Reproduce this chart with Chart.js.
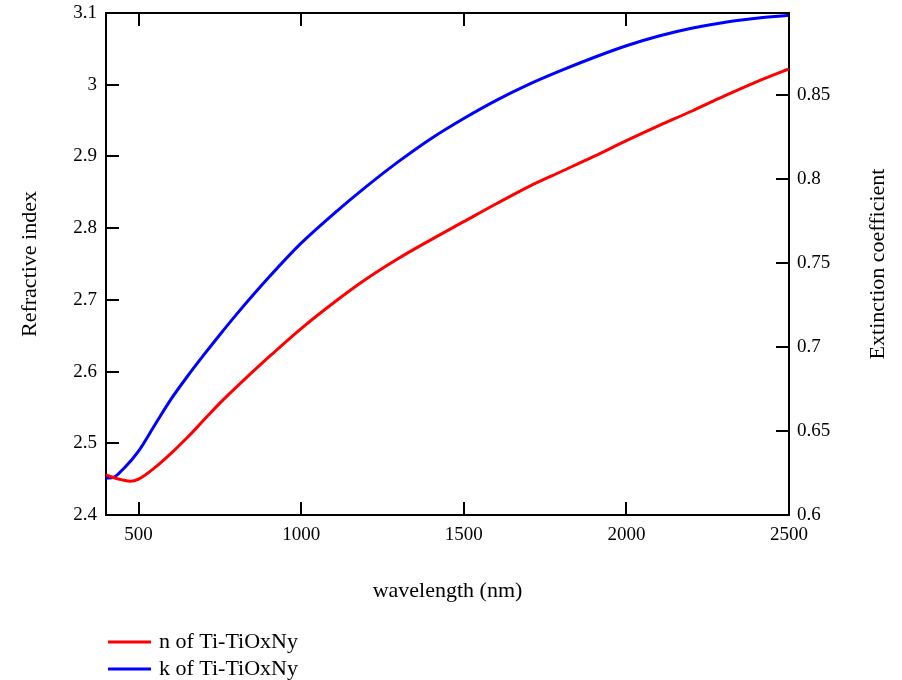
<!DOCTYPE html>
<html>
<head>
<meta charset="utf-8">
<script src="https://cdn.jsdelivr.net/npm/chart.js@4/dist/chart.umd.min.js"></script>
<style>
html,body{margin:0;padding:0;background:#fff;}
#wrap{width:902px;height:680px;}
</style>
</head>
<body>
<div id="wrap"><canvas id="c" width="902" height="680"></canvas></div>
<script>
// wavelength (nm)
const wavelengths = [400,425,450,475,500,550,600,650,700,750,800,900,1000,1100,1200,1300,1400,1500,1600,1700,1800,1900,2000,2100,2200,2300,2400,2500];
// refractive index n of Ti-TiOxNy
const nValues = [2.456,2.452,2.449,2.447,2.450,2.466,2.486,2.508,2.532,2.556,2.578,2.620,2.660,2.696,2.729,2.758,2.784,2.809,2.834,2.858,2.879,2.900,2.922,2.943,2.963,2.984,3.004,3.022];
// extinction coefficient k of Ti-TiOxNy
const kValues = [0.6220,0.6226,0.6268,0.6320,0.6380,0.6536,0.6690,0.6825,0.6952,0.7074,0.7192,0.7414,0.7619,0.7794,0.7956,0.8106,0.8243,0.8362,0.8470,0.8565,0.8648,0.8725,0.8795,0.8853,0.8899,0.8934,0.8959,0.8976];
const seriesLabels = ['n of Ti-TiOxNy','k of Ti-TiOxNy'];
const xTickValues = [500,1000,1500,2000,2500];
const xTitle = 'wavelength (nm)';
const yTitle = 'Refractive index';
const y1Title = 'Extinction coefficient';

const FONT = 'Liberation Serif, "Times New Roman", serif';
const TICK_FONT = {family: FONT, size: 19};
const TITLE_FONT = {family: FONT, size: 22};

const nPoints = wavelengths.map((w,i)=>({x:w,y:nValues[i]}));
const kPoints = wavelengths.map((w,i)=>({x:w,y:kValues[i]}));

function noPad(s) { s.paddingTop = 0; s.paddingBottom = 0; s.paddingLeft = 0; s.paddingRight = 0; }

const extras = {
  id: 'extras',
  afterDraw(chart) {
    const ctx = chart.ctx;
    const a = chart.chartArea;
    const xs = chart.scales.x, ys = chart.scales.y, y1 = chart.scales.y1;
    const TL = 13;
    ctx.save();
    ctx.strokeStyle = '#000';
    ctx.lineWidth = 2;
    ctx.beginPath();
    ctx.moveTo(a.left, a.top); ctx.lineTo(a.right, a.top);
    xs.ticks.forEach(t => {
      const px = Math.round(xs.getPixelForValue(t.value));
      ctx.moveTo(px, a.bottom); ctx.lineTo(px, a.bottom - TL);
      ctx.moveTo(px, a.top); ctx.lineTo(px, a.top + TL);
    });
    ys.ticks.forEach(t => {
      const py = Math.round(ys.getPixelForValue(t.value));
      ctx.moveTo(a.left, py); ctx.lineTo(a.left + TL, py);
    });
    y1.ticks.forEach(t => {
      const py = Math.round(y1.getPixelForValue(t.value));
      ctx.moveTo(a.right, py); ctx.lineTo(a.right - TL, py);
    });
    ctx.stroke();

    ctx.fillStyle = '#000';
    ctx.font = '22px ' + FONT;
    ctx.textAlign = 'center';
    ctx.textBaseline = 'middle';
    ctx.translate(878, (a.top + a.bottom) / 2);
    ctx.rotate(-Math.PI / 2);
    ctx.fillText(y1Title, 0, 0);
    ctx.restore();

    ctx.save();
    ctx.font = '22px ' + FONT;
    ctx.textAlign = 'left';
    ctx.textBaseline = 'middle';
    chart.data.datasets.forEach((ds, i) => {
      const y = 642 + i * 27;
      ctx.strokeStyle = ds.borderColor;
      ctx.lineWidth = 3;
      ctx.beginPath();
      ctx.moveTo(108, y); ctx.lineTo(151, y);
      ctx.stroke();
      ctx.fillStyle = '#000';
      ctx.fillText(ds.label, 159, y);
    });
    ctx.restore();
  }
};

new Chart(document.getElementById('c'), {
  type: 'line',
  data: {
    datasets: [
      {label: seriesLabels[0], data: nPoints, yAxisID: 'y', borderColor: '#ff0000', backgroundColor: '#ff0000', borderWidth: 3, pointRadius: 0, cubicInterpolationMode: 'monotone', fill: false},
      {label: seriesLabels[1], data: kPoints, yAxisID: 'y1', borderColor: '#0000ff', backgroundColor: '#0000ff', borderWidth: 3, pointRadius: 0, cubicInterpolationMode: 'monotone', fill: false}
    ]
  },
  options: {
    responsive: false,
    animation: false,
    layout: {padding: {top: 13, left: 0, right: 0, bottom: 60}},
    plugins: {legend: {display: false}, tooltip: {enabled: false}},
    scales: {
      x: {
        type: 'linear', position: 'bottom', min: 400, max: 2500,
        afterBuildTicks: s => { s.ticks = xTickValues.map(v => ({value: v})); },
        afterFit: s => { s.height = 105; noPad(s); },
        grid: {display: false, drawTicks: false},
        border: {display: true, color: '#000', width: 2},
        ticks: {font: TICK_FONT, color: '#000', padding: 9, maxRotation: 0, autoSkip: false, callback: v => String(v)},
        title: {display: true, text: xTitle, font: TITLE_FONT, color: '#000', padding: {top: 0, bottom: 16}}
      },
      y: {
        type: 'linear', position: 'left', min: 2.4, max: 3.1,
        afterFit: s => { s.width = 106; noPad(s); },
        grid: {display: false, drawTicks: false},
        border: {display: true, color: '#000', width: 2},
        ticks: {stepSize: 0.1, includeBounds: false, font: TICK_FONT, color: '#000', padding: 9, callback: v => String(+v.toFixed(2))},
        title: {display: true, text: yTitle, font: TITLE_FONT, color: '#000', padding: {top: 17, bottom: 0}}
      },
      y1: {
        type: 'linear', position: 'right', min: 0.6, max: 0.899,
        afterFit: s => { s.width = 113; noPad(s); },
        grid: {display: false, drawTicks: false},
        border: {display: true, color: '#000', width: 2},
        ticks: {stepSize: 0.05, includeBounds: false, font: TICK_FONT, color: '#000', padding: 8, callback: v => String(+v.toFixed(3))},
        title: {display: false}
      }
    }
  },
  plugins: [extras]
});
</script>
</body>
</html>
